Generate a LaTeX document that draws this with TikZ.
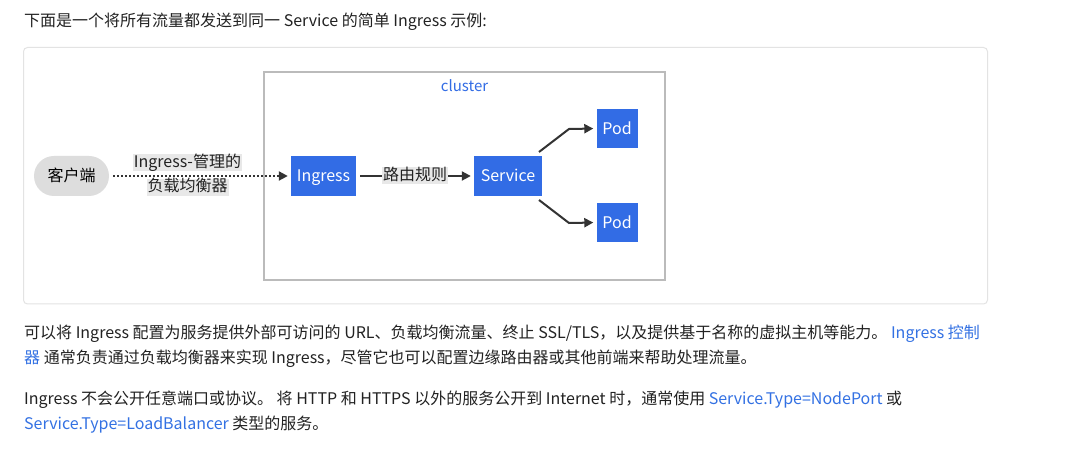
\documentclass[tikz,border=0pt]{standalone}
\usepackage{fontspec}
\setmainfont{Noto Sans CJK SC}
\usetikzlibrary{arrows.meta}
\definecolor{txt}{HTML}{222222}
\definecolor{link}{HTML}{3371E3}
\definecolor{k8s}{HTML}{326CE5}
\definecolor{edge}{HTML}{333333}
\definecolor{lblbg}{HTML}{E8E8E8}
\definecolor{clientbg}{HTML}{DDDDDD}
\definecolor{clusterln}{HTML}{BBBBBB}
\definecolor{outerln}{HTML}{E3E3E3}
\newcommand{\lnk}[1]{\textcolor{link}{#1}}
\tikzset{
  bodytext/.style={anchor=base west, inner sep=0pt, text=txt, font=\fontsize{16bp}{20bp}\selectfont},
  k8sbox/.style={fill=k8s, draw=none, text=white, inner sep=0pt, text height=15bp, text depth=3bp, font=\fontsize{16bp}{20bp}\selectfont},
  clientbox/.style={fill=clientbg, draw=none, text=black, inner sep=0pt, text height=15bp, text depth=3bp, rounded corners=20bp, minimum width=75bp, minimum height=40bp, font=\fontsize{16bp}{20bp}\selectfont},
  elabel/.style={fill=lblbg, text=txt, inner xsep=1bp, inner ysep=1bp, text height=12bp, text depth=3bp, font=\fontsize{16bp}{19bp}\selectfont},
  conn/.style={draw=edge, line width=2bp, -{Triangle[length=9bp,width=9bp]}},
  dotconn/.style={conn, dash pattern=on 2bp off 2bp},
}
\begin{document}
\begin{tikzpicture}[x=1bp, y=-1bp]
\useasboundingbox (0,0) rectangle (1077,451);
\fill[white] (0,0) rectangle (1077,451);
% heading text
\node[bodytext] (t0) at (24,27) {下面是一个将所有流量都发送到同一 Service 的简单 Ingress 示例:};
% outer frame
\draw[draw=outerln, line width=1bp, rounded corners=4bp] (23.5,47.5) rectangle (987.5,304);
% cluster
\draw[draw=clusterln, line width=2bp] (264,72) rectangle (665,280);
\node[text=k8s, inner sep=0pt, font=\fontsize{15bp}{18bp}\selectfont] (cl) at (464.5,86) {cluster};
% nodes
\node[clientbox] (client) at (71.5,176) {客户端};
\node[k8sbox, minimum width=65bp, minimum height=40bp] (ingress) at (323.5,176) {Ingress};
\node[k8sbox, minimum width=68bp, minimum height=40bp] (service) at (508,176) {Service};
\node[k8sbox, minimum width=41bp, minimum height=39bp] (pod1) at (617,128.5) {Pod};
\node[k8sbox, minimum width=41bp, minimum height=39bp] (pod2) at (617,222.5) {Pod};
% edges
\draw[dotconn, shorten <=4bp, shorten >=3bp] (client.east) -- (ingress.west);
\node[elabel] (l1a) at (187.5,163) {Ingress-管理的};
\node[elabel] (l1b) at (187.5,187.5) {负载均衡器};
\draw[conn, shorten <=4bp, shorten >=3bp] (ingress.east) -- (service.west);
\node[elabel] (l2) at (415,176) {路由规则};
\coordinate (s1) at (539,152);
\coordinate (b1) at (569,129);
\coordinate (s2) at (539,200);
\coordinate (b2) at (569,223);
\draw[conn, shorten >=3bp] (s1) -- (b1) -- (pod1.west);
\draw[conn, shorten >=3bp] (s2) -- (b2) -- (pod2.west);
% body paragraphs
\node[bodytext] (p1) at (24,339) {可以将 Ingress 配置为服务提供外部可访问的 URL、负载均衡流量、终止 SSL/TLS，以及提供基于名称的虚拟主机等能力。 \lnk{Ingress 控制}};
\node[bodytext] (p2) at (24,364) {\lnk{器} 通常负责通过负载均衡器来实现 Ingress，尽管它也可以配置边缘路由器或其他前端来帮助处理流量。};
\node[bodytext] (p3) at (24,405) {Ingress 不会公开任意端口或协议。 将 HTTP 和 HTTPS 以外的服务公开到 Internet 时，通常使用 \lnk{Service.Type=NodePort} 或};
\node[bodytext] (p4) at (24,430) {\lnk{Service.Type=LoadBalancer} 类型的服务。};
\end{tikzpicture}
\end{document}
